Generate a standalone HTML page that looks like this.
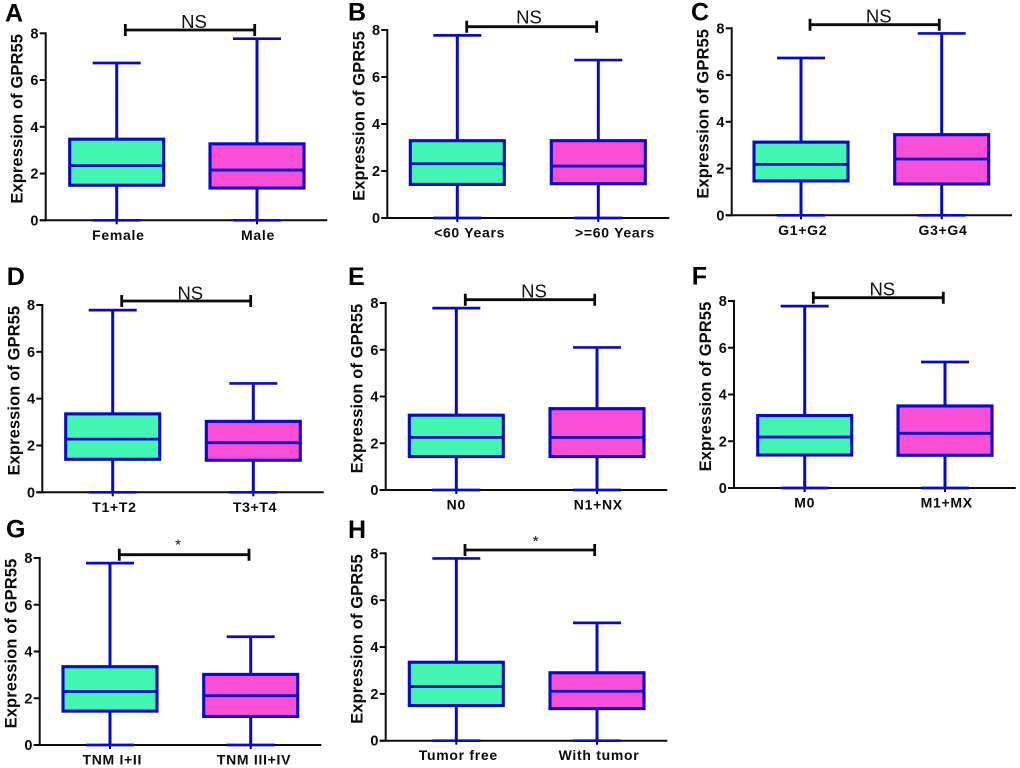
<!DOCTYPE html>
<html lang="en">
<head>
<meta charset="utf-8">
<title>Expression of GPR55 box plots</title>
<style>
html,body{margin:0;padding:0;background:#fff;}
#figure{display:block;width:1020px;height:768px;font-family:"Liberation Sans",Arial,sans-serif;}
</style>
</head>
<body>
<svg id="figure" xmlns="http://www.w3.org/2000/svg" width="1020" height="768" viewBox="0 0 1020 768"></svg>
<script>
// ---- Data ----
const panelLetters = ['A','B','C','D','E','F','G','H'];
const categoryLabels = [
  ['Female','Male'],
  ['<60 Years','>=60 Years'],
  ['G1+G2','G3+G4'],
  ['T1+T2','T3+T4'],
  ['N0','N1+NX'],
  ['M0','M1+MX'],
  ['TNM I+II','TNM III+IV'],
  ['Tumor free','With tumor']
];
const whiskerHigh = [[6.73,7.77],[7.77,6.72],[6.73,7.78],[7.78,4.65],[7.78,6.10],[7.78,5.39],[7.78,4.63],[7.78,5.03]];
const upperQuartile = [[3.47,3.27],[3.29,3.29],[3.13,3.45],[3.35,3.03],[3.20,3.48],[3.10,3.51],[3.35,3.02],[3.35,2.90]];
const medianValues = [[2.34,2.15],[2.31,2.21],[2.18,2.41],[2.27,2.12],[2.25,2.25],[2.18,2.34],[2.29,2.11],[2.31,2.11]];
const lowerQuartile = [[1.50,1.38],[1.43,1.46],[1.47,1.34],[1.41,1.37],[1.43,1.43],[1.41,1.40],[1.45,1.22],[1.50,1.37]];
const whiskerLow = [[0,0],[0,0],[0,0],[0,0],[0,0],[0,0],[0,0],[0,0]];
const significance = ['NS','NS','NS','NS','NS','NS','*','*'];
const yTicks = [0,2,4,6,8];
const yAxisTitle = 'Expression of GPR55';

// ---- Panel layout (pixels), kept apart from the data ----
const layouts = [
  {ax:45.7, y0:220.3,y8:33.3, c:[116.7,257],  end:327.3, br:[125.3,254.7],brY:30,   sigX:194,  sigY:28,   lx:5,    ly:21.7, lab:[1.7,1]},
  {ax:387.3,y0:218,  y8:30,   c:[457.3,598.3],end:669.3, br:[466.7,596.7],brY:26.7, sigX:529,  sigY:23.3, lx:348,  ly:20.7, lab:[12.3,16.7]},
  {ax:731.7,y0:215.3,y8:28.3, c:[801,941.7],  end:1012,  br:[810,939.3],  brY:24.7, sigX:878.7,sigY:22.7, lx:691,  ly:20.7, lab:[1.7,1.3]},
  {ax:42.3, y0:492.3,y8:305,  c:[112.7,253.3],end:323.7, br:[121.7,250.7],brY:301,  sigX:190.3,sigY:299.7,lx:6.7,  ly:285,  lab:[1.7,1.7]},
  {ax:385.7,y0:490,  y8:303,  c:[456.3,597],  end:667.3, br:[465.3,594.7],brY:299.7,sigX:534,  sigY:297.7,lx:348,  ly:285,  lab:[0,1.3]},
  {ax:734,  y0:488,  y8:301,  c:[804.7,945],  end:1015.7,br:[813.3,943.3],brY:297.7,sigX:882.3,sigY:295.7,lx:691.7,ly:284.3,lab:[0,1.7]},
  {ax:39.7, y0:745,  y8:558,  c:[110,250.7],  end:321.3, br:[119.3,249],  brY:554.7,sigX:178,  sigY:549.5,lx:6,    ly:537.3,lab:[2.3,3.3]},
  {ax:385.7,y0:740.7,y8:553.3,c:[456.3,597],  end:667.3, br:[465,594.7],  brY:550,  sigX:535.7,sigY:546,  lx:348,  ly:538,  lab:[2,2]}
];
const BLUE = '#0a0ac4', INK = '#0b0b0b';
const FILLS = ['#42f5b0','#f84fd6'];
const BOX_HALF = 47, CAP_HALF = 24;
const SVG_NS = 'http://www.w3.org/2000/svg';
const svg = document.getElementById('figure');

function make(parent, tag, attrs, text) {
  const el = document.createElementNS(SVG_NS, tag);
  for (const k in attrs) el.setAttribute(k, attrs[k]);
  if (text !== undefined) el.textContent = text;
  parent.appendChild(el);
  return el;
}
function line(parent, x1, y1, x2, y2, stroke, w) {
  return make(parent, 'line', {x1, y1, x2, y2, stroke, 'stroke-width': w});
}
function yScale(L) {
  return v => L.y0 - (v / 8) * (L.y0 - L.y8);
}

panelLetters.forEach((letter, p) => {
  const L = layouts[p];
  const y = yScale(L);
  const g = make(svg, 'g', {});
  
  

  const letterEl = make(g, 'text', {x: L.lx, y: L.ly, 'font-size': 25, 'font-weight': 'bold', fill: '#000'}, letter);
  
  

  const yAxis = line(g, L.ax, L.y8 - 1, L.ax, L.y0 + 1, INK, 2);
  
  

  const xAxis = line(g, L.ax - 6, L.y0, L.end, L.y0, INK, 2);
  
  

  yTicks.forEach(t => {
    const tick = line(g, L.ax - 6, y(t), L.ax, y(t), INK, 2);
    
    
    const lab = make(g, 'text', {x: L.ax - 7.2, y: y(t) + 5, 'font-size': 14.5, 'font-weight': 'bold', 'text-anchor': 'end', fill: INK}, String(t));
    
    
  });

  const titleX = L.ax - 23, titleY = (L.y0 + L.y8) / 2 - 8;
  const title = make(g, 'text', {x: titleX, y: titleY, 'font-size': 16.5, 'font-weight': 'bold', 'letter-spacing': 0.1, 'text-anchor': 'middle', fill: INK, transform: 'rotate(-90 ' + titleX + ' ' + titleY + ')'}, yAxisTitle);
  
  

  categoryLabels[p].forEach((cat, i) => {
    const c = L.c[i];
    const box = make(g, 'g', {});
    
    

    line(box, c, L.y0, c, L.y0 + 4, INK, 2);
    const stem = line(box, c, y(whiskerLow[p][i]), c, y(whiskerHigh[p][i]), BLUE, 3);
    
    

    const capHigh = line(box, c - CAP_HALF, y(whiskerHigh[p][i]), c + CAP_HALF, y(whiskerHigh[p][i]), BLUE, 2.7);
    
    

    const capLow = line(box, c - CAP_HALF, y(whiskerLow[p][i]), c + CAP_HALF, y(whiskerLow[p][i]), BLUE, 2.7);
    
    

    const top = y(upperQuartile[p][i]), bot = y(lowerQuartile[p][i]);
    const rect = make(box, 'rect', {x: c - BOX_HALF, y: top, width: BOX_HALF * 2, height: bot - top, fill: FILLS[i], stroke: BLUE, 'stroke-width': 3.1});
    
    

    const med = line(box, c - BOX_HALF, y(medianValues[p][i]), c + BOX_HALF, y(medianValues[p][i]), BLUE, 2.8);
    
    

    const lab = make(g, 'text', {x: c + L.lab[i], y: L.y0 + 19.5, 'font-size': 14, 'font-weight': 'bold', 'letter-spacing': 0.7, 'text-anchor': 'middle', fill: INK}, cat);
    
    
  });

  const bracket = make(g, 'path', {d: 'M' + L.br[0] + ' ' + (L.brY - 6) + 'V' + (L.brY + 6) + 'M' + L.br[0] + ' ' + L.brY + 'H' + L.br[1] + 'M' + L.br[1] + ' ' + (L.brY - 6) + 'V' + (L.brY + 6), fill: 'none', stroke: INK, 'stroke-width': 2.8});
  
  

  const isStar = significance[p] === '*';
  const sig = make(g, 'text', {x: L.sigX, y: L.sigY, 'font-size': isStar ? 15 : 18.5, 'text-anchor': 'middle', fill: '#111'}, significance[p]);
  
  
});
</script>
</body>
</html>
